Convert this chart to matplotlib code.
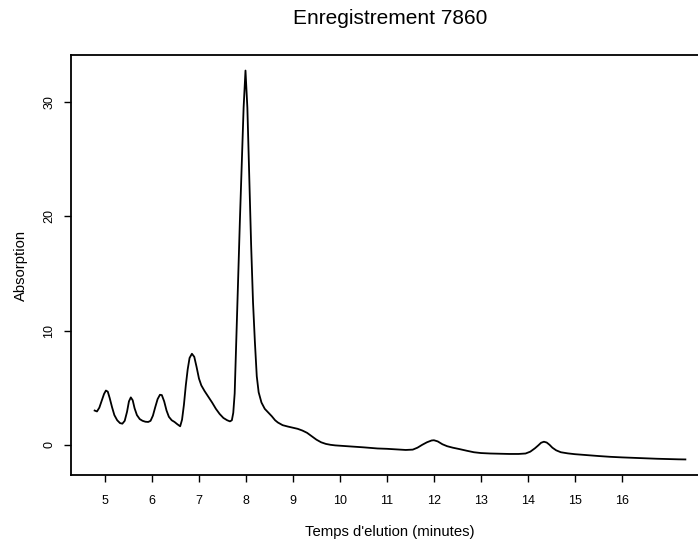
import numpy as np
import matplotlib
matplotlib.use('Agg')
import matplotlib.pyplot as plt

plt.rcParams['font.family'] = ['Liberation Sans', 'DejaVu Sans']

#%% Chromatogram values (time in minutes, absorption)

temps = [4.78, 4.83, 4.88, 4.93, 4.98, 5.02, 5.06, 5.10, 5.15, 5.20,
         5.26, 5.32, 5.37, 5.42, 5.47, 5.51, 5.55, 5.59, 5.63, 5.68,
         5.74, 5.80, 5.86, 5.92, 5.97, 6.02, 6.07, 6.12, 6.17, 6.21,
         6.26, 6.31, 6.36, 6.42, 6.48, 6.54, 6.60, 6.64, 6.68, 6.72,
         6.76, 6.80, 6.85, 6.90, 6.95, 7.00, 7.05, 7.12, 7.20, 7.28,
         7.36, 7.44, 7.52, 7.60, 7.66, 7.70, 7.73, 7.76, 7.79, 7.83,
         7.87, 7.91, 7.95, 7.99, 8.03, 8.07, 8.11, 8.15, 8.19, 8.23,
         8.27, 8.33, 8.40, 8.47, 8.55, 8.62, 8.68, 8.78, 8.89, 9.00,
         9.10, 9.20, 9.30, 9.40, 9.50, 9.60, 9.70, 9.80, 9.90, 10.00,
         10.25, 10.50, 10.80, 11.00, 11.20, 11.40, 11.55, 11.65, 11.75, 11.85,
         11.95, 12.00, 12.08, 12.18, 12.28, 12.40, 12.55, 12.70, 12.85, 13.00,
         13.20, 13.40, 13.60, 13.80, 13.95, 14.05, 14.15, 14.22, 14.28, 14.34,
         14.40, 14.46, 14.52, 14.60, 14.70, 14.85, 15.00, 15.25, 15.50, 15.75,
         16.00, 16.25, 16.50, 16.75, 17.00, 17.20, 17.35]

absorption = [3.00, 2.92, 3.25, 3.85, 4.45, 4.75, 4.65, 4.10, 3.30, 2.60,
              2.15, 1.90, 1.85, 2.10, 2.90, 3.80, 4.15, 3.90, 3.20, 2.60,
              2.25, 2.10, 2.02, 2.00, 2.10, 2.55, 3.30, 4.00, 4.38, 4.35,
              3.80, 3.00, 2.45, 2.15, 2.00, 1.80, 1.62, 2.20, 3.50, 5.20,
              6.60, 7.60, 7.97, 7.70, 6.80, 5.80, 5.20, 4.70, 4.20, 3.70,
              3.15, 2.70, 2.35, 2.15, 2.05, 2.15, 2.80, 4.50, 8.50, 14.0,
              19.5, 24.5, 29.5, 32.75, 29.5, 23.5, 17.5, 12.5, 9.00, 6.00,
              4.60, 3.70, 3.15, 2.85, 2.50, 2.15, 1.95, 1.72, 1.60, 1.50,
              1.40, 1.25, 1.05, 0.75, 0.45, 0.22, 0.08, 0.00, -0.05, -0.08,
              -0.15, -0.22, -0.32, -0.35, -0.40, -0.45, -0.42, -0.25, 0.00, 0.22,
              0.38, 0.40, 0.30, 0.05, -0.12, -0.25, -0.38, -0.52, -0.65, -0.72,
              -0.76, -0.78, -0.80, -0.80, -0.76, -0.60, -0.30, -0.05, 0.18, 0.27,
              0.20, 0.00, -0.25, -0.48, -0.65, -0.75, -0.82, -0.90, -0.98, -1.05,
              -1.10, -1.14, -1.18, -1.22, -1.25, -1.27, -1.28]

xticks = np.arange(5, 17)
yticks = [0, 10, 20, 30]

#%% Plotting

fig = plt.figure(figsize=(6.98, 5.42), dpi=100)
ax = fig.add_axes([71/698, 67/542, 638/698, 420/542])

ax.plot(temps, absorption, color='black', lw=1.3)

# same 4% padding as the default R plot region
span_x = max(temps) - min(temps)
span_y = max(absorption) - min(absorption)
ax.set_xlim(min(temps) - 0.04*span_x, max(temps) + 0.04*span_x)
ax.set_ylim(min(absorption) - 0.04*span_y, max(absorption) + 0.04*span_y)

ax.set_xticks(xticks)
ax.set_yticks(yticks)
ax.tick_params(axis='both', direction='out', length=4.7, width=1.0,
               labelsize=9, color='black')
ax.tick_params(axis='x', pad=9.5)
ax.tick_params(axis='y', pad=6.5)
for lab in ax.get_yticklabels():
    lab.set_rotation(90)
    lab.set_va('center')
    lab.set_ha('right')

for sp in ax.spines.values():
    sp.set_linewidth(1.3)

ax.set_title('Enregistrement 7860', fontsize=15, pad=22)
ax.set_xlabel("Temps d'elution (minutes)", fontsize=10.7)
ax.xaxis.set_label_coords(0.5, -0.145)
ax.xaxis.label.set_va('baseline')
ax.set_ylabel('Absorption', fontsize=10.7)
ax.yaxis.set_label_coords(-0.079, 0.5)
ax.yaxis.label.set_va('center')

fig.savefig('out.png', dpi=100)
